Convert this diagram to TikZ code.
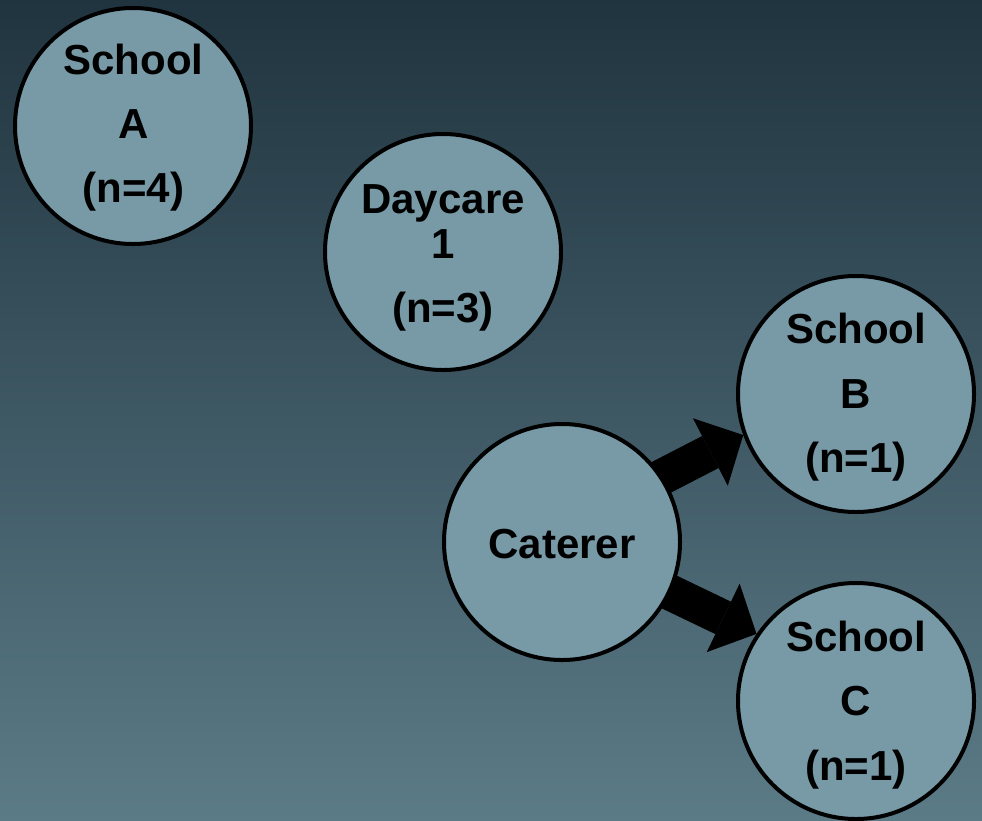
\documentclass[tikz,border=0pt]{standalone}
\usepackage{fontspec}
\setmainfont{Liberation Sans}
\usetikzlibrary{arrows.meta,calc,backgrounds}
\definecolor{bgtop}{HTML}{20343F}
\definecolor{bgbot}{HTML}{5B7B87}
\definecolor{nodefill}{HTML}{779AA6}
\tikzset{
  site/.style={circle, draw=black, line width=4pt, fill=nodefill, minimum size=236pt, inner sep=0pt},
  lbl/.style={anchor=base, font=\fontsize{42pt}{42pt}\selectfont\bfseries, inner sep=0pt},
  flow/.style={line width=36pt, -{Triangle[length=37pt,width=76pt,line width=0pt]}}
}
\begin{document}
\begin{tikzpicture}[x=1pt,y=-1pt]
\useasboundingbox (0,0) rectangle (982,820);
\node[site] (sA) at (133,126) {};
\node[site] (dc) at (443,252) {};
\node[site] (sB) at (856,394) {};
\node[site] (cat) at (562,542) {};
\node[site] (sC) at (856,701) {};
\begin{scope}[on background layer]
\shade[top color=bgtop, bottom color=bgbot] (0,0) rectangle (982,820);
\draw[flow] ($(cat.33)!-20pt!(sB.200)$) -- (sB.200);
\draw[flow] ($(cat.-25)!-20pt!(sC.146)$) -- (sC.146);
\end{scope}
\node[lbl] (sA1) at (133.5,74) {School};
\node[lbl] (sA2) at (133.5,138) {A};
\node[lbl] (sA3) at (133.5,202) {(n=4)};
\node[lbl] (dc1) at (443,213) {Daycare};
\node[lbl] (dc2) at (443,258) {1};
\node[lbl] (dc3) at (443,322) {(n=3)};
\node[lbl] (sB1) at (856,343) {School};
\node[lbl] (sB2) at (856,408) {B};
\node[lbl] (sB3) at (856,472) {(n=1)};
\node[lbl] (cat1) at (562,558) {Caterer};
\node[lbl] (sC1) at (856,651) {School};
\node[lbl] (sC2) at (856,715) {C};
\node[lbl] (sC3) at (856,780) {(n=1)};
\end{tikzpicture}
\end{document}
